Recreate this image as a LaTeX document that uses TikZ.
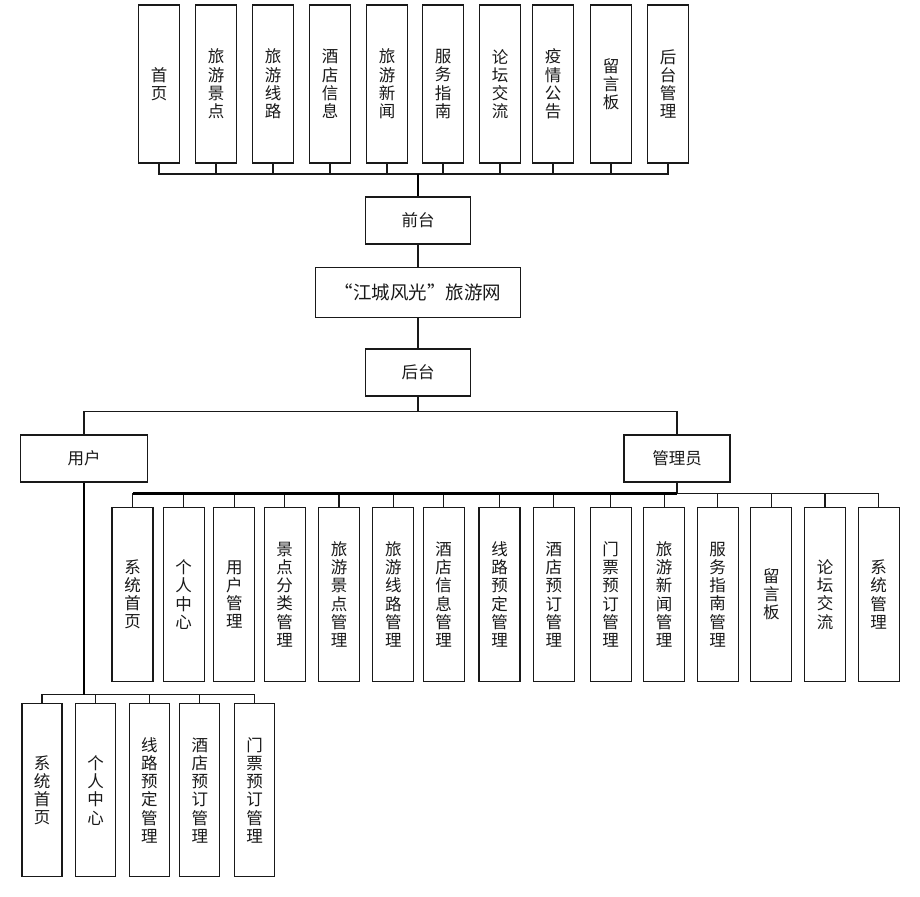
\documentclass[tikz,border=0pt]{standalone}
\usepackage{fontspec}
\newfontfamily\cjk{Noto Sans CJK SC}
\begin{document}
\begin{tikzpicture}[
    x=1pt,y=-1pt,
    box/.style={
      draw=black!90,
      line width=1.3pt,
      fill=white,
      align=center,
      inner sep=0pt,
      text=black!90,
      font=\cjk\fontsize{16.5}{18.2}\selectfont
    },
    colbox/.style={box,minimum width=41pt,minimum height=158pt},
    leafbox/.style={box,minimum width=41pt,minimum height=174pt},
    link/.style={draw=black!90,line width=1.2pt},
    trunk/.style={draw=black,line width=2.4pt}
  ]
    \useasboundingbox (0,0) rectangle (920,896);
    % front-end pages
    \foreach \x/\t [count=\i] in {159/{首\\页},216/{旅\\游\\景\\点},273/{旅\\游\\线\\路},
        330/{酒\\店\\信\\息},387/{旅\\游\\新\\闻},443/{服\\务\\指\\南},500/{论\\坛\\交\\流},
        553/{疫\\情\\公\\告},611/{留\\言\\板},668/{后\\台\\管\\理}}
      \node[colbox] (q\i) at (\x,84) {\t};
    \coordinate (qbus) at (418,174);
    \foreach \i in {1,...,10}
      \draw[link] (q\i.south) |- (qbus);
    % middle column
    \node[box,minimum width=105pt,minimum height=47pt] (qiantai) at (418,220.5) {前台};
    \node[box,minimum width=205pt,minimum height=50pt,font=\cjk\fontsize{18.5}{20}\selectfont] (site) at (418,292.5) {“江城风光”旅游网};
    \node[box,minimum width=105pt,minimum height=47pt] (houtai) at (418,372.5) {后台};
    \draw[trunk] (qbus) -- (qiantai);
    \draw[link] (qiantai) -- (site);
    \draw[link] (site) -- (houtai);
    % roles
    \node[box,minimum width=127pt,minimum height=47pt] (yonghu) at (84,458.5) {用户};
    \node[box,minimum width=106pt,minimum height=47pt] (guanli) at (677,458.5) {管理员};
    \coordinate (split) at (418,411.5);
    \draw[link] (houtai) -- (split);
    \draw[link] (yonghu.north) |- (split) -| (guanli.north);
    % admin modules
    \foreach \x/\t [count=\i] in {132.5/{系\\统\\首\\页},183.7/{个\\人\\中\\心},234.3/{用\\户\\管\\理},
        284.7/{景\\点\\分\\类\\管\\理},339/{旅\\游\\景\\点\\管\\理},393.3/{旅\\游\\线\\路\\管\\理},
        443.7/{酒\\店\\信\\息\\管\\理},499.5/{线\\路\\预\\定\\管\\理},553.8/{酒\\店\\预\\订\\管\\理},
        610.7/{门\\票\\预\\订\\管\\理},664.2/{旅\\游\\新\\闻\\管\\理},717.7/{服\\务\\指\\南\\管\\理},
        771.3/{留\\言\\板},825/{论\\坛\\交\\流},878.7/{系\\统\\管\\理}}
      \node[leafbox] (a\i) at (\x,594.5) {\t};
    \coordinate (abus) at (677,493.3);
    \foreach \i in {1,...,15}
      \draw[link] (a\i.north) |- (abus);
    \draw[link] (guanli) -- (abus);
    \draw[trunk] (abus) -- (abus -| a1.north);
    % user modules
    \foreach \x/\t [count=\i] in {42/{系\\统\\首\\页},95.5/{个\\人\\中\\心},149.3/{线\\路\\预\\定\\管\\理},
        199.8/{酒\\店\\预\\订\\管\\理},254.7/{门\\票\\预\\订\\管\\理}}
      \node[box,minimum width=40pt,minimum height=173pt] (u\i) at (\x,790.3) {\t};
    \coordinate (ubus) at (84,694.7);
    \foreach \i in {1,...,5}
      \draw[link] (u\i.north) |- (ubus);
    \draw[trunk] (yonghu) -- (ubus);
  \end{tikzpicture}
\end{document}
